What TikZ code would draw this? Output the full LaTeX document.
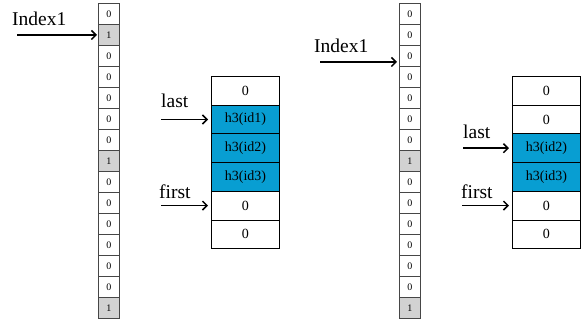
\documentclass[tikz,border=0pt]{standalone}
\usepackage{fontspec}
\setmainfont{Liberation Serif}
\usetikzlibrary{calc,arrows.meta}
\definecolor{cellblue}{RGB}{8,158,210}
\definecolor{cellgray}{RGB}{210,210,210}
\definecolor{bitline}{RGB}{70,70,70}
\tikzset{
  bit/.style={draw=bitline,line width=0.9pt,minimum width=21pt,minimum height=21pt,inner sep=0pt,anchor=north west,font=\fontsize{10}{10}\selectfont},
  bitone/.style={bit,fill=cellgray},
  slot/.style={draw=black,line width=0.9pt,minimum width=68pt,minimum height=28.7pt,inner sep=0pt,anchor=north west,font=\fontsize{14}{14}\selectfont},
  slotfull/.style={slot,fill=cellblue},
  lbl/.style={font=\fontsize{19.5}{20}\selectfont,inner sep=0pt,anchor=base west},
  ptr/.style={-{Straight Barb[length=4.5pt,width=9pt,line width=1.5pt]},line width=1.7pt},
}
\begin{document}
\begin{tikzpicture}[x=1pt,y=-1pt]
\useasboundingbox (0,0) rectangle (584,326);
% left bit column
\node[bit]    (a1)  at (98,3) {0};
\node[bitone] (a2)  at (98,24) {1};
\node[bit]    (a3)  at (98,45) {0};
\node[bit]    (a4)  at (98,66) {0};
\node[bit]    (a5)  at (98,87) {0};
\node[bit]    (a6)  at (98,108) {0};
\node[bit]    (a7)  at (98,129) {0};
\node[bitone] (a8)  at (98,150) {1};
\node[bit]    (a9)  at (98,171) {0};
\node[bit]    (a10) at (98,192) {0};
\node[bit]    (a11) at (98,213) {0};
\node[bit]    (a12) at (98,234) {0};
\node[bit]    (a13) at (98,255) {0};
\node[bit]    (a14) at (98,276) {0};
\node[bitone] (a15) at (98,297) {1};
% right bit column
\node[bit]    (b1)  at (399,3) {0};
\node[bit]    (b2)  at (399,24) {0};
\node[bit]    (b3)  at (399,45) {0};
\node[bit]    (b4)  at (399,66) {0};
\node[bit]    (b5)  at (399,87) {0};
\node[bit]    (b6)  at (399,108) {0};
\node[bit]    (b7)  at (399,129) {0};
\node[bitone] (b8)  at (399,150) {1};
\node[bit]    (b9)  at (399,171) {0};
\node[bit]    (b10) at (399,192) {0};
\node[bit]    (b11) at (399,213) {0};
\node[bit]    (b12) at (399,234) {0};
\node[bit]    (b13) at (399,255) {0};
\node[bit]    (b14) at (399,276) {0};
\node[bitone] (b15) at (399,297) {1};
% left queue
\node[slot]     (p1) at (211,76) {0};
\node[slotfull] (p2) at (211,104.7) {h3(id1)};
\node[slotfull] (p3) at (211,133.4) {h3(id2)};
\node[slotfull] (p4) at (211,162.1) {h3(id3)};
\node[slot]     (p5) at (211,190.8) {0};
\node[slot]     (p6) at (211,219.5) {0};
% right queue
\node[slot]     (q1) at (512,76) {0};
\node[slot]     (q2) at (512,104.7) {0};
\node[slotfull] (q3) at (512,133.4) {h3(id2)};
\node[slotfull] (q4) at (512,162.1) {h3(id3)};
\node[slot]     (q5) at (512,190.8) {0};
\node[slot]     (q6) at (512,219.5) {0};
% labels
\node[lbl] (l1) at (12,26) {Index1};
\node[lbl] (l2) at (314,52.5) {Index1};
\node[lbl] (l3) at (161,107.5) {last};
\node[lbl] (l4) at (159,199) {first};
\node[lbl] (l5) at (463,139) {last};
\node[lbl] (l6) at (461,199) {first};
% arrow tails
\coordinate (t1) at (17,0);
\coordinate (t2) at (320,0);
\coordinate (t3) at (161,0);
\coordinate (t4) at (161,0);
\coordinate (t5) at (463,0);
\coordinate (t6) at (462,0);
\draw[ptr] (t1 |- a2.west) -- ([xshift=-1pt]a2.west);
\draw[ptr] ($(t2 |- b3.west)+(0,6)$) -- ([xshift=-2pt,yshift=-6pt]b3.west);
\draw[ptr] (t3 |- p2.west) -- ([xshift=-3pt]p2.west);
\draw[ptr] (t4 |- p5.west) -- ([xshift=-3pt]p5.west);
\draw[ptr] (t5 |- q3.west) -- ([xshift=-3pt]q3.west);
\draw[ptr] (t6 |- q5.west) -- ([xshift=-3pt]q5.west);
\end{tikzpicture}
\end{document}
